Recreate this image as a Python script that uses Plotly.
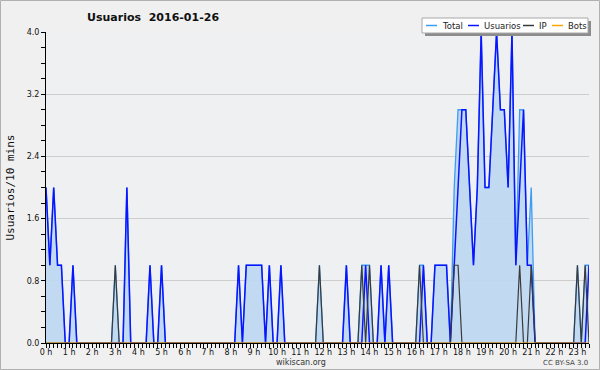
import plotly.graph_objects as go

# ---------------- data (10-minute buckets, 2016-01-26) ----------------
tick_hours = list(range(24))
tick_labels = ["0 h", "1 h", "2 h", "3 h", "4 h", "5 h", "6 h", "7 h", "8 h", "9 h",
               "10 h", "11 h", "12 h", "13 h", "14 h", "15 h", "16 h", "17 h", "18 h",
               "19 h", "20 h", "21 h", "22 h", "23 h"]
y_ticks = [0.0, 0.8, 1.6, 2.4, 3.2, 4.0]
y_labels = ["0.0", "0.8", "1.6", "2.4", "3.2", "4.0"]

usuarios = [
    2, 1, 2, 1, 1, 0,   # 0h
    0, 1, 0, 0, 0, 0,   # 1h
    0, 0, 0, 0, 0, 0,   # 2h
    0, 0, 0, 2, 0, 0,   # 3h
    0, 0, 0, 1, 0, 0,   # 4h
    1, 0, 0, 0, 0, 0,   # 5h
    0, 0, 0, 0, 0, 0,   # 6h
    0, 0, 0, 0, 0, 0,   # 7h
    0, 0, 1, 0, 1, 1,   # 8h
    1, 1, 1, 0, 1, 0,   # 9h
    0, 1, 0, 0, 0, 0,   # 10h
    0, 0, 0, 0, 0, 0,   # 11h
    0, 0, 0, 0, 0, 0,   # 12h
    1, 0, 0, 0, 0, 1,   # 13h
    0, 0, 0, 1, 0, 1,   # 14h
    0, 0, 0, 0, 0, 0,   # 15h
    0, 0, 1, 0, 0, 1,   # 16h
    1, 1, 1, 0, 1, 2,   # 17h
    3, 3, 2, 1, 2, 4,   # 18h
    2, 2, 3, 4, 3, 3,   # 19h
    2, 4, 1, 2, 3, 1,   # 20h
    1, 0, 0, 0, 0, 0,   # 21h
    0, 0, 0, 0, 0, 0,   # 22h
    0, 0, 0, 1,         # 23h
]
ip = [
    0, 0, 0, 0, 0, 0,
    0, 0, 0, 0, 0, 0,
    0, 0, 0, 0, 0, 0,
    1, 0, 0, 0, 0, 0,
    0, 0, 0, 0, 0, 0,
    0, 0, 0, 0, 0, 0,
    0, 0, 0, 0, 0, 0,
    0, 0, 0, 0, 0, 0,
    0, 0, 0, 0, 0, 0,
    0, 0, 0, 0, 0, 0,
    0, 0, 0, 0, 0, 0,
    0, 0, 0, 0, 0, 1,
    0, 0, 0, 0, 0, 0,
    0, 0, 0, 0, 1, 0,
    1, 0, 0, 0, 0, 0,
    0, 0, 0, 0, 0, 0,
    0, 1, 0, 0, 0, 0,
    0, 0, 0, 0, 1, 1,
    0, 0, 0, 0, 0, 0,
    0, 0, 0, 0, 0, 0,
    0, 0, 0, 1, 0, 0,
    1, 0, 0, 0, 0, 0,
    0, 0, 0, 0, 0, 0,
    1, 0, 1, 0,
]
total = [
    2, 1, 2, 1, 1, 0,
    0, 1, 0, 0, 0, 0,
    0, 0, 0, 0, 0, 0,
    1, 0, 0, 2, 0, 0,
    0, 0, 0, 1, 0, 0,
    1, 0, 0, 0, 0, 0,
    0, 0, 0, 0, 0, 0,
    0, 0, 0, 0, 0, 0,
    0, 0, 1, 0, 1, 1,
    1, 1, 1, 0, 1, 0,
    0, 1, 0, 0, 0, 0,
    0, 0, 0, 0, 0, 1,
    0, 0, 0, 0, 0, 0,
    1, 0, 0, 0, 1, 1,
    1, 0, 0, 1, 0, 1,
    0, 0, 0, 0, 0, 0,
    0, 1, 1, 0, 0, 1,
    1, 1, 1, 0, 2, 3,
    3, 3, 2, 1, 2, 4,
    2, 2, 3, 4, 3, 3,
    2, 4, 1, 3, 3, 1,
    2, 0, 0, 0, 0, 0,
    0, 0, 0, 0, 0, 0,
    1, 0, 1, 1,
]
bots = [
    0, 0, 0, 0, 0, 0, 0, 0, 0, 0, 0, 0, 0, 0, 0, 0, 0, 0, 0, 0, 0, 0, 0, 0,
    0, 0, 0, 0, 0, 0, 0, 0, 0, 0, 0, 0, 0, 0, 0, 0, 0, 0, 0, 0, 0, 0, 0, 0,
    0, 0, 0, 0, 0, 0, 0, 0, 0, 0, 0, 0, 0, 0, 0, 0, 0, 0, 0, 0, 0, 0, 0, 0,
    0, 0, 0, 0, 0, 0, 0, 0, 0, 0, 0, 0, 0, 0, 0, 0, 0, 0, 0, 0, 0, 0, 0, 0,
    0, 0, 0, 0, 0, 0, 0, 0, 0, 0, 0, 0, 0, 0, 0, 0, 0, 0, 0, 0, 0, 0, 0, 0,
    0, 0, 0, 0, 0, 0, 0, 0, 0, 0, 0, 0, 0, 0, 0, 0, 0, 0, 0, 0, 0, 0,
]
x_hours = [i / 6 for i in range(len(usuarios))]

# ---------------- styling ----------------
C_TOTAL = "#3d9cf5"
C_FILL = "rgba(190,216,240,0.95)"
C_USU = "#0a14ff"
C_IP = "#3a3a3a"
C_BOTS = "#ffa500"
FONT = "DejaVu Sans"

W, H = 600, 370
L, R, T, B = 46, 11, 32, 27
PW, PH = W - L - R, H - T - B


def fx(px):
    return (px - L) / PW


def fy(py):
    return (T + PH - py) / PH


fig = go.Figure()
fig.add_trace(go.Scatter(x=x_hours, y=total, mode="lines", name="Total",
                         line=dict(color=C_TOTAL, width=1.3), fill="tozeroy",
                         fillcolor=C_FILL))
fig.add_trace(go.Scatter(x=x_hours, y=usuarios, mode="lines", name="Usuarios",
                         line=dict(color=C_USU, width=1.5)))
fig.add_trace(go.Scatter(x=x_hours, y=ip, mode="lines", name="IP",
                         line=dict(color=C_IP, width=1.2)))
fig.add_trace(go.Scatter(x=x_hours, y=bots, mode="lines", name="Bots",
                         line=dict(color=C_BOTS, width=1.2)))

shapes = []
# outer border
shapes.append(dict(type="rect", xref="paper", yref="paper", layer="above",
                   x0=fx(0.5), x1=fx(599.5), y0=fy(369.5), y1=fy(0.5),
                   line=dict(color="#b0b0b0", width=1), fillcolor="rgba(0,0,0,0)"))
# legend shadow + box
shapes.append(dict(type="rect", xref="paper", yref="paper", layer="above",
                   x0=fx(425), x1=fx(591), y0=fy(36), y1=fy(21),
                   line=dict(width=0), fillcolor="#8c8c8c"))
shapes.append(dict(type="rect", xref="paper", yref="paper", layer="above",
                   x0=fx(422), x1=fx(588), y0=fy(33), y1=fy(18),
                   line=dict(color="#a8a8a8", width=1), fillcolor="#ffffff"))
# (label, colour, line start px, text start px)
legend_items = [("Total", C_TOTAL, 426, 440), ("Usuarios", C_USU, 468, 482),
                ("IP", C_IP, 523, 537), ("Bots", C_BOTS, 552, 566)]
annotations = []
for name, col, x0, xt in legend_items:
    shapes.append(dict(type="line", xref="paper", yref="paper", layer="above",
                       x0=fx(x0), x1=fx(x0 + 11), y0=fy(25.5), y1=fy(25.5),
                       line=dict(color=col, width=1.5)))
    annotations.append(dict(text=name, xref="paper", yref="paper", x=fx(xt),
                            y=fy(25.5), xanchor="left", yanchor="middle", showarrow=False,
                            font=dict(family=FONT, size=8.5, color="#222222")))

annotations += [
    dict(text="<b>Usuarios  2016-01-26</b>", xref="paper", yref="paper", x=fx(85),
         y=fy(17.5), xanchor="left", yanchor="middle", showarrow=False,
         font=dict(family=FONT, size=11, color="#111111")),
    dict(text="Usuarios/10 mins", xref="paper", yref="paper", x=fx(10), y=0.5,
         xanchor="center", yanchor="middle", textangle=-90, showarrow=False,
         font=dict(family="DejaVu Sans Mono", size=11, color="#111111")),
    dict(text="wikiscan.org", xref="paper", yref="paper", x=fx(300.5), y=fy(362.5),
         xanchor="center", yanchor="middle", showarrow=False,
         font=dict(family=FONT, size=8, color="#333333")),
    dict(text="CC BY-SA 3.0", xref="paper", yref="paper", x=fx(590), y=fy(363.5),
         xanchor="right", yanchor="middle", showarrow=False,
         font=dict(family=FONT, size=7, color="#444444")),
]

fig.update_layout(
    width=W, height=H,
    margin=dict(l=L, r=R, t=T, b=B, pad=0),
    paper_bgcolor="#f0f0f0",
    plot_bgcolor="#eef0f2",
    showlegend=False,
    shapes=shapes,
    annotations=annotations,
    xaxis=dict(range=[0, x_hours[-1]], tickmode="array", tickvals=tick_hours,
               ticktext=tick_labels, ticks="outside", ticklen=4, tickcolor="#000",
               ticklabelstandoff=-3,
               showline=True, linecolor="#000", linewidth=1, showgrid=False,
               zeroline=False, tickfont=dict(family=FONT, size=8, color="#111"),
               minor=dict(tickmode="linear", tick0=0, dtick=1 / 6, ticks="outside",
                          ticklen=4, tickcolor="#000", showgrid=False)),
    yaxis=dict(range=[0, 4.0], tickmode="array", tickvals=y_ticks, ticktext=y_labels,
               ticks="outside", ticklen=4, tickcolor="#000", showline=True,
               linecolor="#000", linewidth=1, showgrid=True, gridcolor="#cdcdcd",
               gridwidth=1, zeroline=False,
               tickfont=dict(family=FONT, size=8, color="#111"),
               minor=dict(tickmode="linear", tick0=0, dtick=0.2, ticks="outside",
                          ticklen=4, tickcolor="#000", showgrid=False)),
)

fig.write_html("out.html", config={"displayModeBar": False},
               post_script="document.body.style.margin='0';document.body.style.overflow='hidden';")
